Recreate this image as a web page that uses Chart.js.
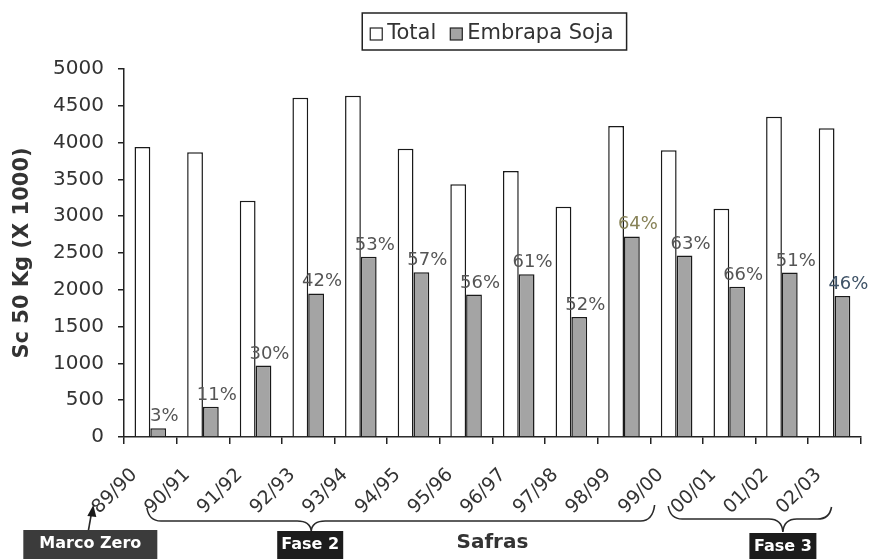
<!DOCTYPE html>
<html>
<head>
<meta charset="utf-8">
<script src="https://cdn.jsdelivr.net/npm/chart.js@4/dist/chart.umd.min.js"></script>
<style>
html,body{margin:0;padding:0;background:#fff;}
#wrap{width:871px;height:559px;}
</style>
</head>
<body>
<div id="wrap"><canvas id="c" width="871" height="559"></canvas></div>
<script>
// ---- data ----
const categories = ['89/90','90/91','91/92','92/93','93/94','94/95','95/96','96/97','97/98','98/99','99/00','00/01','01/02','02/03'];
const totalValues = [3940, 3870, 3210, 4610, 4635, 3915, 3435, 3615, 3130, 4225, 3895, 3100, 4350, 4195];
const embrapaValues = [120, 410, 970, 1950, 2450, 2240, 1935, 2210, 1630, 2725, 2465, 2040, 2235, 1915];
const shareLabels = ['3%','11%','30%','42%','53%','57%','56%','61%','52%','64%','63%','66%','51%','46%'];
const yTickValues = [0, 500, 1000, 1500, 2000, 2500, 3000, 3500, 4000, 4500, 5000];
const seriesNames = ['Total', 'Embrapa Soja'];
const yTitle = 'Sc 50 Kg (X 1000)';
const xTitle = 'Safras';
const startLabel = 'Marco Zero';
const phaseNames = ['Fase 2', 'Fase 3'];
const phaseFrom = [1, 11];
const phaseTo = [10, 13];

// ---- styles ----
const FONT = 'DejaVu Sans';
const shareColors = {'64%': '#878257', '46%': '#3e5266'};

const shareLabelPlugin = {
  id: 'shareLabels',
  afterDatasetsDraw(chart) {
    const ctx = chart.ctx;
    const meta = chart.getDatasetMeta(1);
    ctx.save();
    ctx.font = '18px "' + FONT + '"';
    ctx.textAlign = 'center';
    ctx.textBaseline = 'alphabetic';
    meta.data.forEach((el, i) => {
      const t = shareLabels[i];
      ctx.fillStyle = shareColors[t] || '#555555';
      ctx.fillText(t, el.x + 6, el.y - 7);
    });
    ctx.restore();
  }
};

const boxedLegendPlugin = {
  id: 'boxedLegend',
  afterDraw(chart) {
    const ctx = chart.ctx;
    const ds = chart.data.datasets;
    ctx.save();
    ctx.font = '21px "' + FONT + '"';
    const box = 12, gapBoxText = 5, gapItems = 14, padL = 8, padR = 13;
    let w = padL + padR;
    ds.forEach((d, i) => {
      w += box + gapBoxText + ctx.measureText(d.label).width;
      if (i < ds.length - 1) w += gapItems;
    });
    const ca = chart.chartArea;
    const cx = (ca.left + ca.right) / 2 + 2;
    const left = cx - w / 2, top = 13, bottom = 50;
    ctx.lineWidth = 1.5;
    ctx.strokeStyle = '#222';
    ctx.strokeRect(left, top, w, bottom - top);
    let x = left + padL;
    const baseY = 39;
    ds.forEach((d, i) => {
      ctx.fillStyle = d.backgroundColor;
      ctx.fillRect(x, baseY - box + 1, box, box);
      ctx.lineWidth = 1.2;
      ctx.strokeStyle = '#222';
      ctx.strokeRect(x, baseY - box + 1, box, box);
      x += box + gapBoxText;
      ctx.fillStyle = '#333';
      ctx.textBaseline = 'alphabetic';
      ctx.textAlign = 'left';
      ctx.fillText(d.label, x, baseY);
      x += ctx.measureText(d.label).width + gapItems;
    });
    ctx.restore();
  }
};

function brace(ctx, x1, x2, xm, yEnd1, yEnd2, yLine, yTip) {
  const r = 14;
  ctx.beginPath();
  ctx.moveTo(x1, yEnd1);
  ctx.quadraticCurveTo(x1 + 2, yLine, x1 + r, yLine);
  ctx.lineTo(xm - r, yLine);
  ctx.quadraticCurveTo(xm - 1, yLine, xm, yTip);
  ctx.quadraticCurveTo(xm + 1, yLine, xm + r, yLine);
  ctx.lineTo(x2 - r, yLine);
  ctx.quadraticCurveTo(x2 - 2, yLine, x2, yEnd2);
  ctx.stroke();
}

function tag(ctx, text, cx, top, w, fill) {
  ctx.fillStyle = fill;
  ctx.fillRect(cx - w / 2, top, w, 40);
  ctx.fillStyle = '#ffffff';
  ctx.font = 'bold 16px "' + FONT + '"';
  ctx.textAlign = 'center';
  ctx.textBaseline = 'middle';
  ctx.fillText(text, cx, top + 14);
}

const annotationPlugin = {
  id: 'phaseAnnotations',
  afterDraw(chart) {
    const ctx = chart.ctx;
    const xs = chart.scales.x;
    const px = i => xs.getPixelForValue(i);
    ctx.save();
    ctx.strokeStyle = '#2a2a2a';
    ctx.lineWidth = 1.6;
    brace(ctx, px(phaseFrom[0]) - 56, px(phaseTo[0]) - 22, px(3) + 3, 508, 505, 521, 531);
    brace(ctx, px(phaseFrom[1]) - 61, px(phaseTo[1]) - 3, px(12) + 1, 506, 507, 519, 532);
    const ax = px(0) - 62;
    ctx.beginPath();
    ctx.moveTo(ax, 531);
    ctx.lineTo(ax + 3, 514);
    ctx.stroke();
    ctx.fillStyle = '#1a1a1a';
    ctx.beginPath();
    ctx.moveTo(ax + 5, 505);
    ctx.lineTo(ax - 1, 516);
    ctx.lineTo(ax + 8, 517);
    ctx.closePath();
    ctx.fill();
    tag(ctx, startLabel, px(0) - 60, 530, 134, '#3b3b3b');
    tag(ctx, phaseNames[0], px(3) + 2, 531, 66, '#1c1c1c');
    tag(ctx, phaseNames[1], px(12) + 1, 533, 67, '#1c1c1c');
    ctx.restore();
  }
};

new Chart(document.getElementById('c'), {
  type: 'bar',
  data: {
    labels: categories,
    datasets: [
      {label: seriesNames[0], data: totalValues, backgroundColor: '#ffffff', borderColor: '#1a1a1a', borderWidth: 1.5, categoryPercentage: 0.6, barPercentage: 1.0},
      {label: seriesNames[1], data: embrapaValues, backgroundColor: '#a4a4a4', borderColor: '#1a1a1a', borderWidth: 1.5, categoryPercentage: 0.6, barPercentage: 1.0}
    ]
  },
  options: {
    responsive: false,
    animation: false,
    devicePixelRatio: 1,
    layout: {padding: {top: 69, right: 10, left: 0, bottom: 0}},
    plugins: {
      legend: {display: false},
      tooltip: {enabled: false}
    },
    scales: {
      x: {
        type: 'category',
        offset: true,
        grid: {display: true, offset: true, drawOnChartArea: false, drawTicks: true, tickLength: 7, color: '#222', lineWidth: 1.5},
        border: {display: true, color: '#222', width: 1.5},
        ticks: {autoSkip: false, maxRotation: 45, minRotation: 45, padding: 20, labelOffset: -16, color: '#333', font: {family: FONT, size: 19}},
        title: {display: true, text: xTitle, color: '#333', font: {family: FONT, size: 20, weight: 'bold'}, padding: {top: 0, bottom: 4}},
        afterFit: s => { s.height = 122; }
      },
      y: {
        min: 0,
        max: 5000,
        grid: {display: true, drawOnChartArea: false, drawTicks: true, tickLength: 6, color: '#222', lineWidth: 1.5},
        border: {display: true, color: '#222', width: 1.5},
        ticks: {stepSize: 500, padding: 14, color: '#333', font: {family: FONT, size: 20}, callback: v => String(v)},
        afterBuildTicks: s => { s.ticks = yTickValues.map(v => ({value: v})); },
        title: {display: true, text: yTitle, color: '#333', font: {family: FONT, size: 21, weight: 'bold'}, padding: {top: 10, bottom: 0}},
        afterFit: s => { s.width = 124; }
      }
    }
  },
  plugins: [shareLabelPlugin, boxedLegendPlugin, annotationPlugin]
});
</script>
</body>
</html>
